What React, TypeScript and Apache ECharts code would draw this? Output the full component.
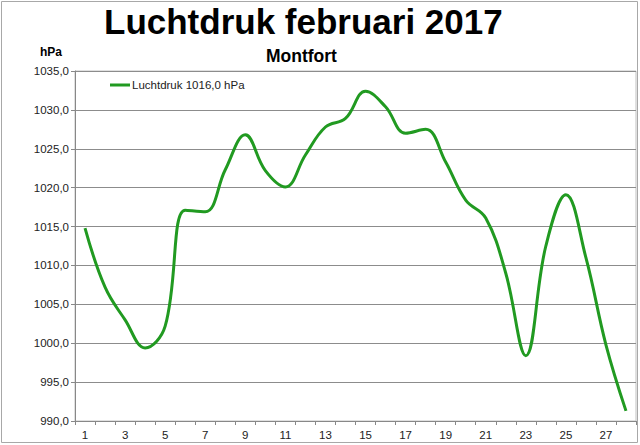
import React, { useEffect, useRef } from "react";
import * as echarts from "echarts";

const days = ["1","2","3","4","5","6","7","8","9","10","11","12","13","14","15","16","17","18","19","20","21","22","23","24","25","26","27","28"];
const pressure = [1014.8, 1007.2, 1003.0, 999.4, 1002.2, 1017.1, 1016.9, 1022.3, 1026.8, 1022.2, 1020.1, 1024.2, 1027.8, 1028.9, 1032.4, 1030.4, 1027.0, 1027.5, 1023.3, 1018.4, 1016.1, 1009.0, 998.4, 1012.5, 1019.1, 1011.0, 999.8, 991.3];
const seriesName = "Luchtdruk 1016,0 hPa";
const titleText = "Luchtdruk februari 2017";
const subtitleText = "Montfort";
const unitText = "hPa";

export default function App() {
  const ref = useRef<HTMLDivElement>(null);
  useEffect(() => {
    document.body.style.margin = "0";
    const chart = echarts.init(ref.current!, null, { renderer: "svg" });
    const font = "Liberation Sans, Arial, sans-serif";
    chart.setOption({
      animation: false,
      backgroundColor: "#ffffff",
      title: [
        { text: titleText, left: 104, top: 4, padding: 0, textStyle: { fontFamily: font, fontSize: 35, fontWeight: "bold", color: "#000" } },
        { text: subtitleText, left: 266, top: 47, padding: 0, textStyle: { fontFamily: font, fontSize: 17.5, fontWeight: "bold", color: "#000" } },
        { text: unitText, left: 40, top: 46, padding: 0, textStyle: { fontFamily: font, fontSize: 12, fontWeight: "bold", color: "#000" } },
      ],
      legend: {
        left: 110, top: 79, padding: 0,
        icon: "rect", itemWidth: 20, itemHeight: 3, itemGap: 2,
        textStyle: { fontFamily: font, fontSize: 11.5, color: "#222", padding: [0, 0, 0, -3] },
        data: [seriesName],
      },
      grid: { left: 75, top: 71, right: 4, bottom: 24, show: true, borderColor: "#c0c0c0", borderWidth: 1 },
      xAxis: {
        type: "category", data: days, boundaryGap: true,
        axisLine: { lineStyle: { color: "#888", width: 1 } },
        axisTick: { show: true, interval: 0, alignWithLabel: false, length: 4, lineStyle: { color: "#888" } },
        axisLabel: { interval: 1, fontFamily: font, fontSize: 11.5, color: "#222", margin: 8 },
      },
      yAxis: {
        type: "value", min: 990, max: 1035, interval: 5,
        axisLine: { show: true, lineStyle: { color: "#888" } },
        axisTick: { show: true, length: 4, lineStyle: { color: "#888" } },
        axisLabel: { fontFamily: font, fontSize: 11.5, color: "#222", margin: 6, formatter: (v: number) => v.toFixed(1).replace(".", ",") },
        splitLine: { show: true, lineStyle: { color: "#8c8c8c", width: 1 } },
      },
      series: [
        { name: seriesName, type: "line", data: pressure, smooth: 0.4, symbol: "none", lineStyle: { color: "#219a21", width: 3 }, itemStyle: { color: "#219a21" } },
      ],
      graphic: [
        { type: "rect", shape: { x: 1.5, y: 1.5, width: 636, height: 441 }, style: { fill: "none", stroke: "#a8a8a8", lineWidth: 1 }, silent: true },
      ],
    });
    return () => chart.dispose();
  }, []);
  return <div ref={ref} style={{ width: 640, height: 445 }} />;
}
